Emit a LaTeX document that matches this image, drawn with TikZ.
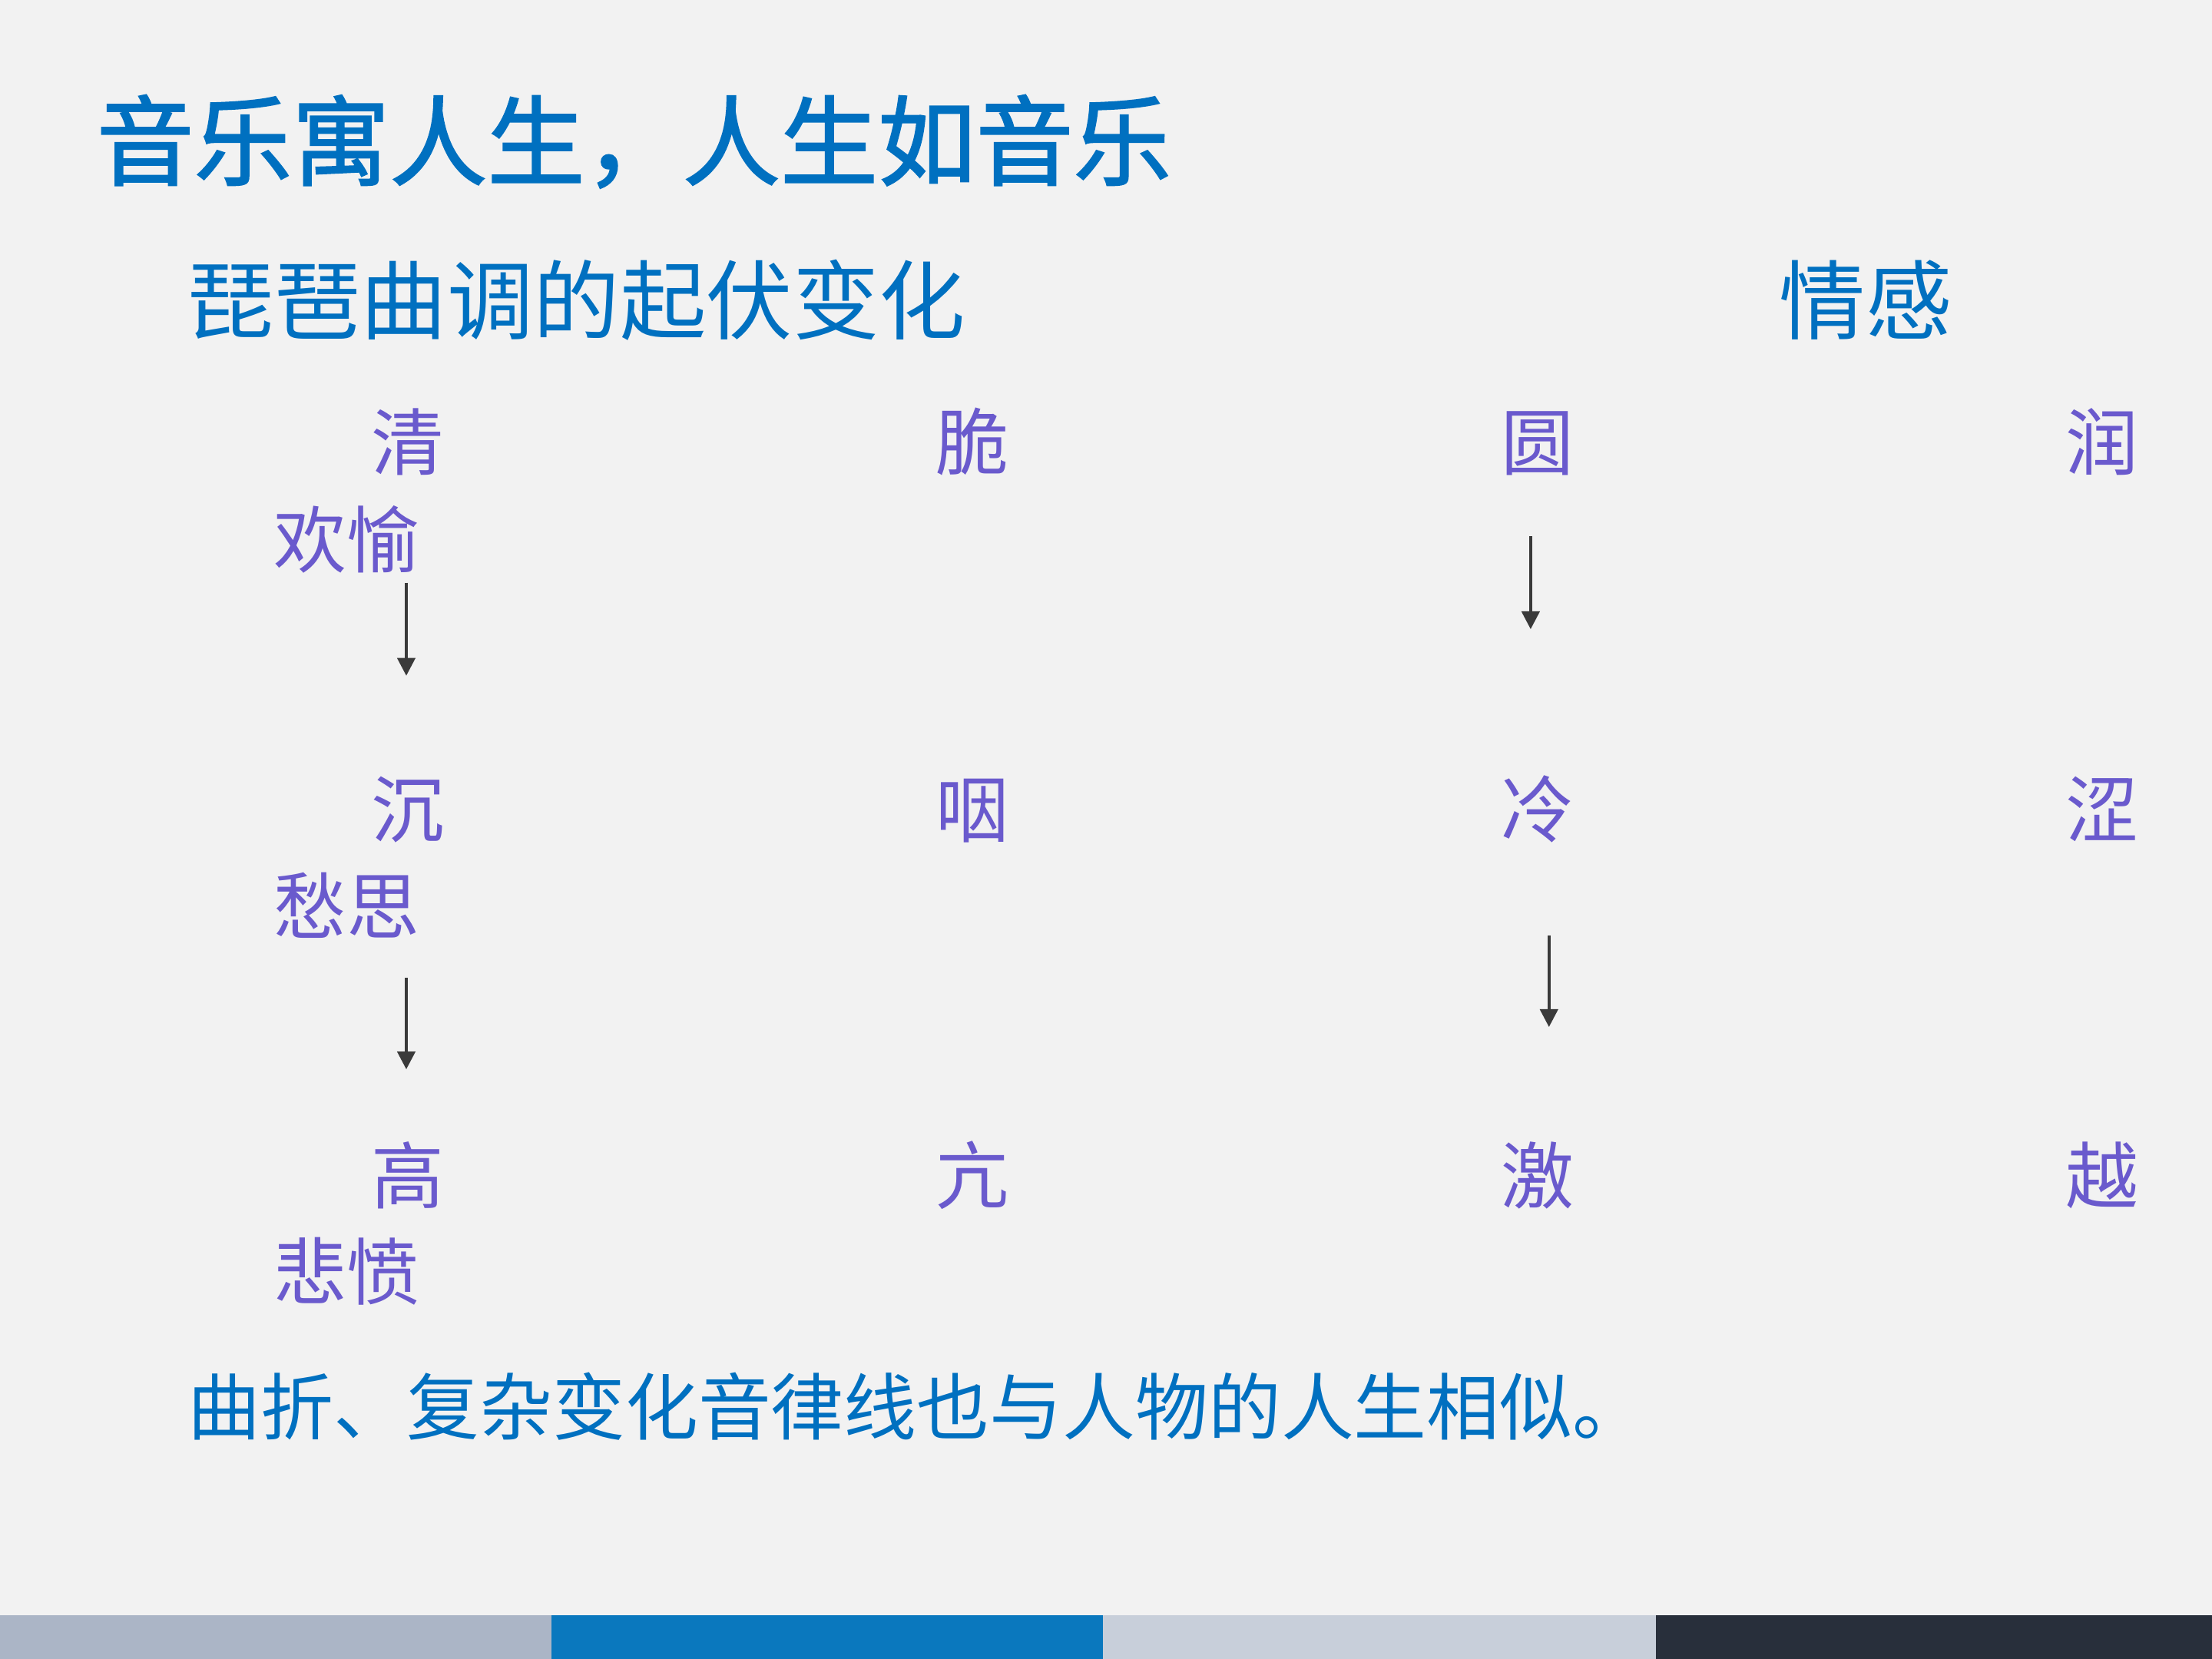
\documentclass[tikz,border=0pt]{standalone}
\usepackage{fontspec}
\setmainfont{Noto Sans CJK SC}
\newfontfamily\cjk{Noto Sans CJK SC}
\newfontfamily\cjktitle{Noto Sans CJK SC}[FakeBold=1.6]
\usetikzlibrary{arrows.meta}
\definecolor{bgc}{HTML}{F2F2F2}
\definecolor{titleblue}{HTML}{0070C0}
\definecolor{charpurple}{HTML}{6A5ACD}
\definecolor{arrowgray}{HTML}{3A3A3A}
\definecolor{barA}{HTML}{ABB5C6}
\definecolor{barB}{HTML}{0A78BE}
\definecolor{barC}{HTML}{C8CFDA}
\definecolor{barD}{HTML}{282F3B}
\tikzset{
  titletext/.style={anchor=base west,inner sep=0pt,text=titleblue,font=\cjktitle\fontsize{36.2}{40}\selectfont},
  headtext/.style={anchor=base west,inner sep=0pt,text=titleblue,font=\cjk\fontsize{32}{36}\selectfont},
  tonechar/.style={anchor=base,inner sep=0pt,text=charpurple,font=\cjk\fontsize{27}{30}\selectfont},
  moodtext/.style={anchor=base,inner sep=0pt,text=charpurple,font=\cjk\fontsize{27}{30}\selectfont},
  bodytext/.style={anchor=base west,inner sep=0pt,text=titleblue,font=\cjk\fontsize{27}{30}\selectfont},
  downarrow/.style={draw=arrowgray,line width=1.1pt,-{Triangle[width=6.6pt,length=6.6pt]}}
}
\begin{document}
\begin{tikzpicture}[x=0.018367cm,y=-0.018367cm]
\fill[bgc] (0,0) rectangle (1568,1176);
\useasboundingbox (0,0) rectangle (1568,1176);
% title
\node[titletext] (title) at (68,126) {音乐寓人生，人生如音乐};
% headings
\node[headtext] (head) at (133,236) {琵琶曲调的起伏变化};
\node[headtext] (emo) at (1261,236) {情感};
% row 1
\node[tonechar] (r1a) at (289,333) {清};
\node[tonechar] (r1b) at (689,333) {脆};
\node[tonechar] (r1c) at (1090,333) {圆};
\node[tonechar] (r1d) at (1490,333) {润};
\node[moodtext] (m1) at (246,402) {欢愉};
% row 2
\node[tonechar] (r2a) at (289,593) {沉};
\node[tonechar] (r2b) at (689,593) {咽};
\node[tonechar] (r2c) at (1090,593) {冷};
\node[tonechar] (r2d) at (1490,593) {涩};
\node[moodtext] (m2) at (246,662) {愁思};
% row 3
\node[tonechar] (r3a) at (289,853) {高};
\node[tonechar] (r3b) at (689,853) {亢};
\node[tonechar] (r3c) at (1090,853) {激};
\node[tonechar] (r3d) at (1490,853) {越};
\node[moodtext] (m3) at (246,921) {悲愤};
% bottom sentence
\node[bodytext] (concl) at (133,1017) {曲折、复杂变化音律线也与人物的人生相似。};
% arrows
\coordinate (a1s) at (288,413);
\coordinate (a1e) at (288,479);
\coordinate (a2s) at (1085,380);
\coordinate (a2e) at (1085,446);
\coordinate (a3s) at (288,693);
\coordinate (a3e) at (288,758);
\coordinate (a4s) at (1098,663);
\coordinate (a4e) at (1098,728);
\draw[downarrow] (a1s) -- (a1e);
\draw[downarrow] (a2s) -- (a2e);
\draw[downarrow] (a3s) -- (a3e);
\draw[downarrow] (a4s) -- (a4e);
% bottom bars
\fill[barA] (0,1145) rectangle (391,1176);
\fill[barB] (391,1145) rectangle (782,1176);
\fill[barC] (782,1145) rectangle (1174,1176);
\fill[barD] (1174,1145) rectangle (1568,1176);
\end{tikzpicture}
\end{document}
